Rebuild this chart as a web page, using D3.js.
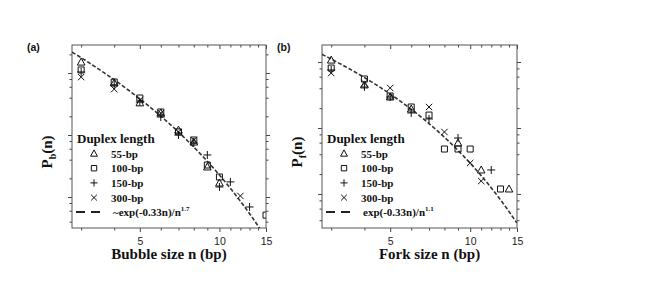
<!DOCTYPE html>
<html>
<head>
<meta charset="utf-8">
<script src="https://cdn.jsdelivr.net/npm/d3@7"></script>
<style>
body{margin:0;background:#fff;}
text{font-family:"Liberation Serif","Times New Roman",serif;fill:#111;}
.tick text{font-family:"Liberation Sans",Arial,sans-serif;font-size:10.5px;fill:#222;}
.tick line{stroke:#444;}
</style>
</head>
<body>
<div id="canvas"></div>
<script>
// x axis: bubble / fork size n (log scale)
var xDomain = [2.77, 15];
var xMajor = [5, 10, 15];
var xMinor = [3, 4, 6, 7, 8, 9, 11, 12, 13, 14];
// y axis decades (no labels in the figure)
var yMajor = [0.1, 0.01, 0.001];
var yMinorMult = [2, 4, 6, 8];

var seriesNames = ['55-bp', '100-bp', '150-bp', '300-bp'];
var seriesSymbols = ['triangle', 'square', 'plus', 'cross'];

// (a) bubble size distribution P_b(n)
var a55n  = [3, 4, 5, 6, 7, 8, 9, 10];
var a55   = [0.150, 0.069, 0.033, 0.0226, 0.0120, 0.0077, 0.00305, 0.00168];
var a100n = [3, 4, 5, 6, 7, 8, 9, 10, 15];
var a100  = [0.112, 0.0716, 0.0395, 0.0235, 0.0112, 0.0083, 0.00328, 0.0021, 0.00051];
var a150n = [3, 4, 5, 6, 7, 8, 9, 10, 11, 13];
var a150  = [0.104, 0.064, 0.034, 0.0195, 0.0100, 0.0074, 0.00476, 0.00145, 0.00175, 0.00069];
var a300n = [3, 4, 5, 6, 7, 8, 12];
var a300  = [0.086, 0.055, 0.0367, 0.0226, 0.0112, 0.0083, 0.00104];

// (b) fork size distribution P_f(n)
var b55n  = [3, 4, 5, 6, 9, 11, 14];
var b55   = [0.107, 0.0449, 0.0295, 0.0194, 0.00593, 0.00231, 0.00119];
var b100n = [3, 4, 5, 6, 7, 8, 9, 10, 13];
var b100  = [0.081, 0.0552, 0.0305, 0.0208, 0.0157, 0.0048, 0.0048, 0.0048, 0.00119];
var b150n = [3, 4, 5, 6, 7, 9, 12];
var b150  = [0.0757, 0.0418, 0.0295, 0.0169, 0.0137, 0.00705, 0.00231];
var b300n = [3, 4, 5, 7, 8, 10, 11];
var b300  = [0.068, 0.048, 0.0404, 0.0208, 0.0087, 0.00295, 0.00157];

// fit curves  C * exp(-k n) / n^alpha
var fitA = {C: 3.07, k: 0.33, alpha: 1.7};
var fitB = {C: 1.0, k: 0.33, alpha: 1.1};

var svg = d3.select('#canvas').append('svg')
  .attr('width', 664).attr('height', 293);

var panels = [
  {key: 'a', left: 72, w: 194, yDomain: [3.16e-4, 0.283], fit: fitA,
   ns: [a55n, a100n, a150n, a300n], vals: [a55, a100, a150, a300],
   sub: 'b', xTitle: 'Bubble size n (bp)', titleShift: 0,
   fitText: '~exp(-0.33n)/n', fitExp: '1.7'},
  {key: 'b', left: 322, w: 195, yDomain: [3.05e-4, 0.181], fit: fitB,
   ns: [b55n, b100n, b150n, b300n], vals: [b55, b100, b150, b300],
   sub: 'f', xTitle: 'Fork size n (bp)', titleShift: 10,
   fitText: 'exp(-0.33n)/n', fitExp: '1.1'}
];

var plotTop = 45, h = 183;

function symbolPath(type, s){
  if(type === 'triangle') return 'M0,' + (-s) + 'L' + (s*0.95) + ',' + (s*0.75) + 'L' + (-s*0.95) + ',' + (s*0.75) + 'Z';
  if(type === 'square') return 'M' + (-s*0.75) + ',' + (-s*0.75) + 'h' + (s*1.5) + 'v' + (s*1.5) + 'h' + (-s*1.5) + 'Z';
  if(type === 'plus') return 'M' + (-s) + ',0H' + s + 'M0,' + (-s) + 'V' + s;
  return 'M' + (-s*0.8) + ',' + (-s*0.8) + 'L' + (s*0.8) + ',' + (s*0.8) + 'M' + (s*0.8) + ',' + (-s*0.8) + 'L' + (-s*0.8) + ',' + (s*0.8);
}

function yMinorTicks(dom){
  var out = [];
  [0.0001, 0.001, 0.01, 0.1].forEach(function(dec){
    yMinorMult.forEach(function(m){
      var v = dec * m;
      if(v > dom[0] && v < dom[1]) out.push(v);
    });
  });
  return out;
}

panels.forEach(function(p){
  var w = p.w;
  var g = svg.append('g').attr('transform', 'translate(' + p.left + ',' + plotTop + ')');

  var x = d3.scaleLog().domain(xDomain).range([0, w]);
  var y = d3.scaleLog().domain(p.yDomain).range([h, 0]);

  g.append('clipPath').attr('id', 'clip' + p.key)
    .append('rect').attr('width', w).attr('height', h);

  // axes: majors + minors on all four sides
  function addAxis(axisFn, scale, vals, size, labels, tr){
    var ax = axisFn(scale).tickValues(vals).tickSize(size).tickPadding(6)
      .tickFormat(labels ? d3.format('d') : '');
    var ga = g.append('g').attr('transform', tr || null).call(ax);
    ga.select('.domain').remove();
    return ga;
  }
  addAxis(d3.axisBottom, x, xMajor, 4, true, 'translate(0,' + h + ')');
  addAxis(d3.axisBottom, x, xMinor, 2.5, false, 'translate(0,' + h + ')');
  addAxis(d3.axisTop, x, xMajor, -4, false);
  addAxis(d3.axisTop, x, xMinor, -2.5, false);
  var ym = yMajor.filter(function(v){ return v > p.yDomain[0] && v < p.yDomain[1]; });
  var yn = yMinorTicks(p.yDomain);
  addAxis(d3.axisLeft, y, ym, 4, false);
  addAxis(d3.axisLeft, y, yn, 2.5, false);
  addAxis(d3.axisRight, y, ym, 4, false, 'translate(' + w + ',0)');
  addAxis(d3.axisRight, y, yn, 2.5, false, 'translate(' + w + ',0)');

  g.append('rect').attr('width', w).attr('height', h)
    .attr('fill', 'none').attr('stroke', '#555').attr('stroke-width', 1);

  var plot = g.append('g').attr('clip-path', 'url(#clip' + p.key + ')');

  // fit curve
  var curveN = d3.range(xDomain[0], xDomain[1] + 0.02, 0.05);
  var f = p.fit;
  var line = d3.line()
    .x(function(n){ return x(n); })
    .y(function(n){ return y(f.C * Math.exp(-f.k * n) / Math.pow(n, f.alpha)); });
  plot.append('path').datum(curveN)
    .attr('d', line).attr('fill', 'none')
    .attr('stroke', '#333').attr('stroke-width', 1.6)
    .attr('stroke-dasharray', '4,2');

  // data markers
  p.ns.forEach(function(ns, i){
    var pts = ns.map(function(n, j){ return {n: n, v: p.vals[i][j]}; });
    plot.selectAll('.m' + i).data(pts).enter().append('path')
      .attr('class', 'm' + i)
      .attr('transform', function(d){ return 'translate(' + x(d.n) + ',' + y(d.v) + ')'; })
      .attr('d', symbolPath(seriesSymbols[i], 4))
      .attr('fill', 'none').attr('stroke', '#111').attr('stroke-width', 1);
  });

  // legend
  var lg = g.append('g');
  lg.append('text').attr('x', 5).attr('y', 97.5)
    .attr('font-size', 13).attr('font-weight', 'bold').text('Duplex length');
  seriesNames.forEach(function(name, i){
    var ly = 108.5 + i * 14.7;
    lg.append('path').attr('transform', 'translate(22,' + ly + ')')
      .attr('d', symbolPath(seriesSymbols[i], 3.6))
      .attr('fill', 'none').attr('stroke', '#111').attr('stroke-width', 1);
    lg.append('text').attr('x', 39).attr('y', ly + 4)
      .attr('font-size', 11).attr('font-weight', 'bold').text(name);
  });
  var dy = 167;
  lg.append('line').attr('x1', 4).attr('x2', 30).attr('y1', dy).attr('y2', dy)
    .attr('stroke', '#222').attr('stroke-width', 1.8).attr('stroke-dasharray', '9,6');
  var ft = lg.append('text').attr('x', 41).attr('y', dy + 4)
    .attr('font-size', 11).attr('font-weight', 'bold');
  ft.append('tspan').text(p.fitText);
  ft.append('tspan').attr('dy', -5).attr('font-size', 7).text(p.fitExp);

  // axis titles
  g.append('text').attr('x', w / 2 + p.titleShift).attr('y', 214)
    .attr('text-anchor', 'middle').attr('font-size', 15).attr('font-weight', 'bold')
    .text(p.xTitle);
  var yt = g.append('text').attr('transform', 'translate(-20,' + 107 + ') rotate(-90)')
    .attr('text-anchor', 'middle').attr('font-size', 15).attr('font-weight', 'bold');
  yt.append('tspan').text('P');
  yt.append('tspan').attr('dy', 3.5).attr('font-size', 10).text(p.sub);
  yt.append('tspan').attr('dy', -3.5).text('(n)');

  // panel label
  g.append('text').attr('x', -45).attr('y', 5.5)
    .style('font-family', '"Liberation Sans",Arial,sans-serif')
    .attr('font-size', 10.5).attr('font-weight', 'bold').text('(' + p.key + ')');
});
</script>
</body>
</html>
